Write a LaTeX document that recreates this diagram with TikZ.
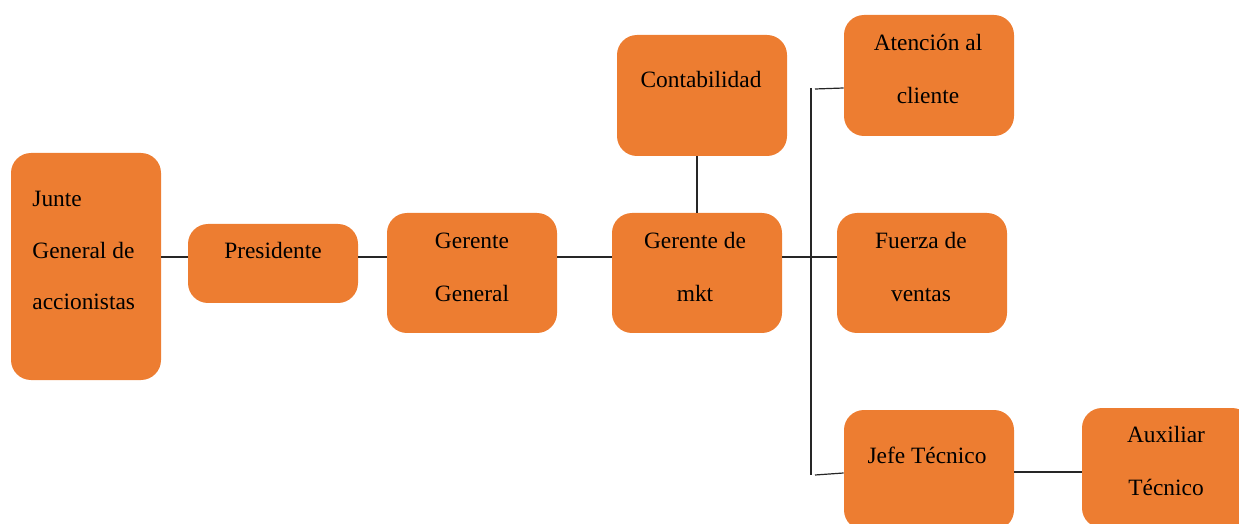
\documentclass[tikz,border=0pt]{standalone}
\usepackage{fontspec}
\setmainfont{Liberation Serif}
\usepackage{tikz}
\usetikzlibrary{positioning, calc}
\definecolor{orgOrange}{HTML}{ED7D31}
\definecolor{orgLine}{HTML}{262626}

\begin{document}
\begin{tikzpicture}[x=0.5pt, y=-0.5pt,
    orgbox/.style={fill=orgOrange, draw=none, rounded corners=10pt,
      minimum width=85pt, minimum height=60pt, inner sep=0pt},
    orgtext/.style={font=\fontsize{11.7}{26.5}\selectfont, text=black,
      align=center, inner sep=0pt, anchor=base},
    orglink/.style={draw=orgLine, line width=0.6pt}]
    \useasboundingbox (0,0) rectangle (1239,524);
    % boxes
    \node[orgbox, minimum width=75pt, minimum height=113.5pt] (junta) at (86,266.5) {};
    \node[orgbox, minimum height=39.5pt] (pres) at (273,263.5) {};
    \node[orgbox] (gg) at (472,273) {};
    \node[orgbox] (mkt) at (697,273) {};
    \node[orgbox, minimum height=60.5pt] (conta) at (702,95.5) {};
    \node[orgbox, minimum height=60.5pt] (aten) at (929,75.5) {};
    \node[orgbox] (fuerza) at (922,273) {};
    \node[orgbox] (jefe) at (929,470) {};
    \node[orgbox] (aux) at (1167,468) {};
    % labels (base = last line)
    \node[orgtext, align=left, anchor=base west,
      font=\fontsize{11.7}{25.75}\selectfont] (tJunta) at (32,310)
      {Junte\\General de\\accionistas};
    \node[orgtext] (tPres) at (273,259) {Presidente};
    \node[orgtext] (tGg) at (472,301) {Gerente\\General};
    \node[orgtext] (tMkt) at (695,301) {Gerente de\\mkt};
    \node[orgtext] (tConta) at (701,88) {Contabilidad};
    \node[orgtext] (tAten) at (928,104) {Atención al\\cliente};
    \node[orgtext] (tFuerza) at (921,301) {Fuerza de\\ventas};
    \node[orgtext] (tJefe) at (927,463) {Jefe Técnico};
    \node[orgtext] (tAux) at (1166,495) {Auxiliar\\Técnico};
    % connectors
    \coordinate (spine) at (0,257);
    \coordinate (busTop) at (811,88);
    \coordinate (busBot) at (811,475);
    \draw[orglink] (junta.east |- spine) -- (pres.west |- spine);
    \draw[orglink] (pres.east |- spine) -- (gg.west |- spine);
    \draw[orglink] (gg.east |- spine) -- (mkt.west |- spine);
    \draw[orglink] (mkt.east |- spine) -- (fuerza.west |- spine);
    \draw[orglink] (mkt.north) -- (mkt.north |- conta.south);
    \draw[orglink] (busTop) -- (busBot);
    \draw[orglink] ($(busTop)+(4,1)$) -- (aten.west |- busTop);
    \draw[orglink] ($(busBot)+(4,0)$) -- ($(jefe.west |- busBot)+(0,-2)$);
    \coordinate (jefeAux) at (0,472);
    \draw[orglink] (jefe.east |- jefeAux) -- (aux.west |- jefeAux);
\end{tikzpicture}
\end{document}
